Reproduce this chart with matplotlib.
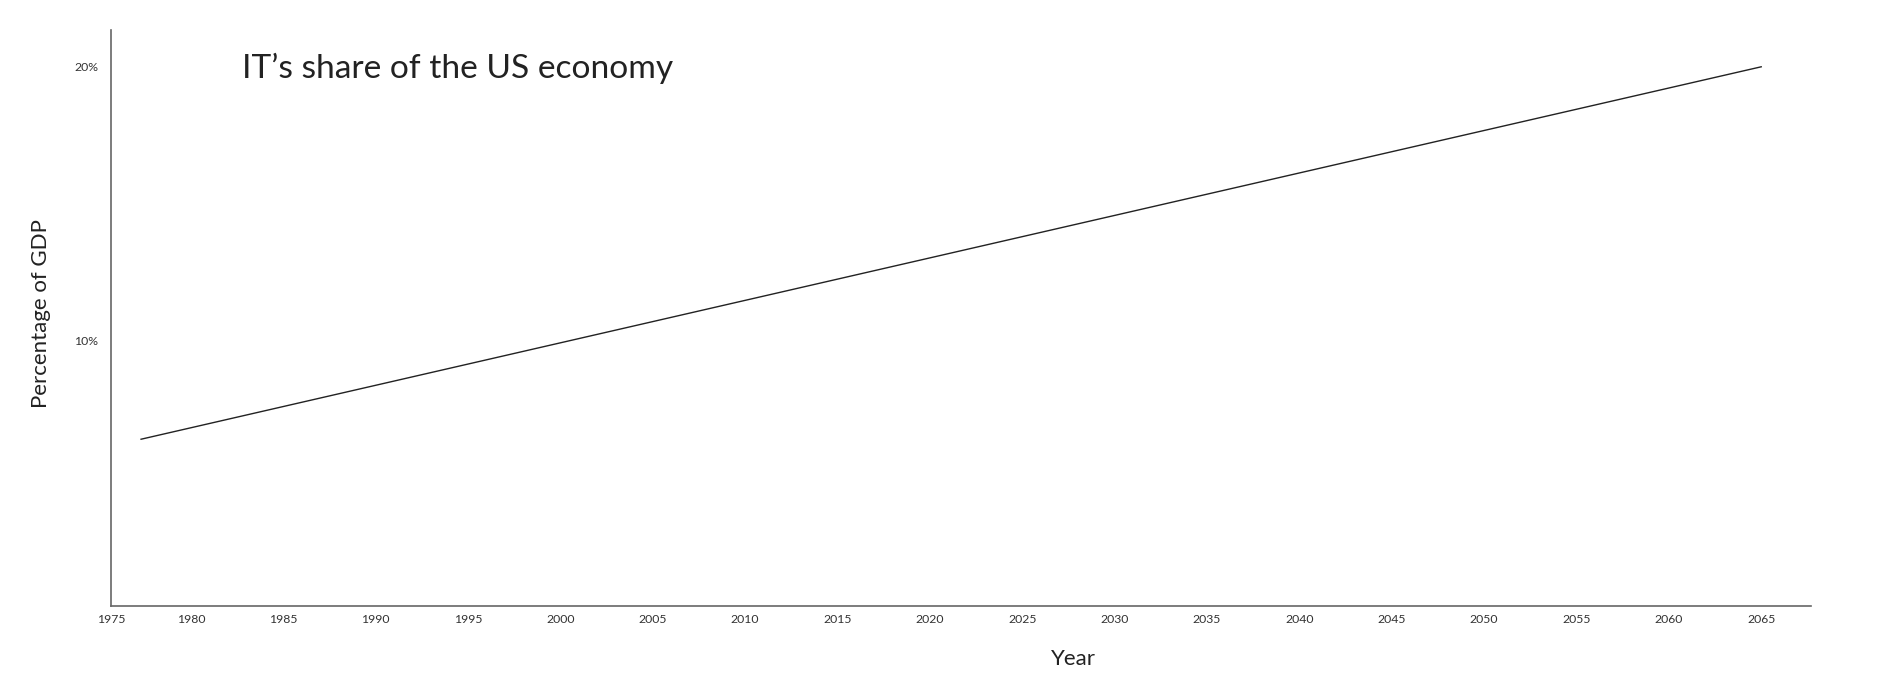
import matplotlib
matplotlib.use("Agg")
import matplotlib.pyplot as plt

# Data
years = [1977.3, 2065]
share = [6.4, 20.0]
x_tick_years = [1975, 1980, 1985, 1990, 1995, 2000, 2005, 2010, 2015, 2020, 2025,
                2030, 2035, 2040, 2045, 2050, 2055, 2060, 2065]
y_ticks = [10, 20]
y_tick_labels = ["10%", "20%"]
title = "IT\u2019s share of the US economy"

plt.rcParams['font.family'] = ['Lato', 'DejaVu Sans']

fig = plt.figure(figsize=(19, 7), dpi=100)
ax = fig.add_axes([0.0584, 0.1343, 0.9532 - 0.0584, 0.957 - 0.1343])

ax.plot(years, share, color="#222222", linewidth=1.0)

xmin, xmax = 1975.67, 2067.7
ax.set_xlim(xmin, xmax)
ax.set_ylim(0.31, 21.34)

xt_pos = [xmin] + x_tick_years[1:]
ax.set_xticks(xt_pos)
ax.set_xticklabels([str(y) for y in x_tick_years])
ax.set_yticks(y_ticks)
ax.set_yticklabels(y_tick_labels)
ax.tick_params(axis='both', length=0, labelsize=8.8, labelcolor="#333333")
ax.tick_params(axis='x', pad=6)
ax.tick_params(axis='y', pad=9)

for s in ["top", "right"]:
    ax.spines[s].set_visible(False)
for s in ["left", "bottom"]:
    ax.spines[s].set_color("#666666")
    ax.spines[s].set_linewidth(1.2)

ax.set_xlabel("Year", fontsize=16, color="#222222")
ax.xaxis.set_label_coords(0.566, -0.074)
ax.set_ylabel("Percentage of GDP", fontsize=16, color="#222222")
ax.yaxis.set_label_coords(-0.035, 0.507)

fig.text(242 / 1900, 1 - 78 / 700, title, fontsize=24.1, color="#222222",
         ha="left", va="baseline")

fig.savefig("out.png", dpi=100, facecolor="white")
